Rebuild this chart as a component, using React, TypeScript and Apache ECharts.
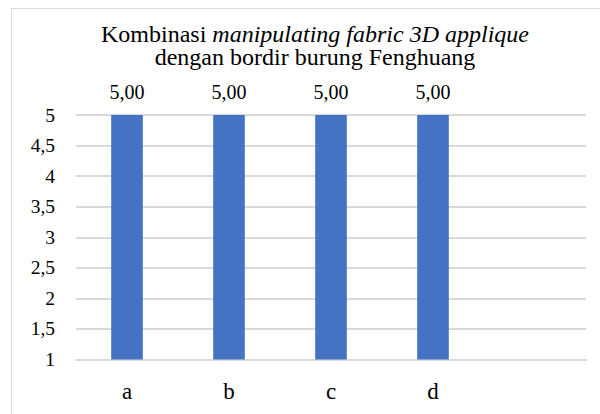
import React, { useEffect, useRef } from "react";
import * as echarts from "echarts";

const categories = ["a", "b", "c", "d", ""];
const values: (number | null)[] = [5, 5, 5, 5, null];
const yTicks = { min: 1, max: 5, interval: 0.5 };

const FONT = "Liberation Serif";

export default function App() {
  const ref = useRef<HTMLDivElement>(null);
  useEffect(() => {
    if (!ref.current) return;
    const chart = echarts.init(ref.current, undefined, { renderer: "svg" });
    chart.setOption({
      animation: false,
      backgroundColor: "#ffffff",
      textStyle: { fontFamily: FONT },
      title: {
        left: 310,
        textAlign: "center",
        top: 17,
        text: "{n|Kombinasi }{i|manipulating fabric 3D applique}\n{n|dengan bordir burung Fenghuang}",
        textStyle: {
          fontFamily: FONT,
          rich: {
            n: { fontFamily: FONT, fontSize: 24, fontWeight: "normal", color: "#000", lineHeight: 23 },
            i: { fontFamily: FONT, fontSize: 24, fontWeight: "normal", color: "#000", fontStyle: "italic", lineHeight: 23 },
          },
        },
      },
      graphic: [
        {
          type: "rect",
          shape: { x: 11.5, y: 8.5, width: 700, height: 500 },
          style: { fill: "none", stroke: "#d9d9d9", lineWidth: 1 },
          silent: true,
          z: -10,
        },
      ],
      grid: { left: 76, right: 14, top: 115, bottom: 54.5, containLabel: false },
      xAxis: {
        type: "category",
        data: categories,
        axisLine: { show: true, lineStyle: { color: "#d9d9d9", width: 2 } },
        axisTick: { show: false },
        axisLabel: { color: "#000", fontFamily: FONT, fontSize: 23, margin: 20 },
      },
      yAxis: {
        type: "value",
        min: yTicks.min,
        max: yTicks.max,
        interval: yTicks.interval,
        axisLine: { show: false },
        axisTick: { show: false },
        splitLine: { lineStyle: { color: "#d9d9d9", width: 2 } },
        axisLabel: {
          color: "#000",
          fontFamily: FONT,
          fontSize: 19.5,
          margin: 21,
          formatter: (v: number) => String(v).replace(".", ","),
        },
      },
      series: [
        {
          type: "bar",
          data: values,
          barWidth: "31%",
          itemStyle: { color: "#4472c4" },
          label: {
            show: true,
            position: "top",
            distance: 13,
            color: "#000",
            fontFamily: FONT,
            fontSize: 20,
            formatter: (p: any) => Number(p.value).toFixed(2).replace(".", ","),
          },
        },
      ],
    });
    return () => chart.dispose();
  }, []);
  return (
    <div
      ref={ref}
      style={{ position: "fixed", left: 0, top: 0, width: 600, height: 414 }}
    />
  );
}
